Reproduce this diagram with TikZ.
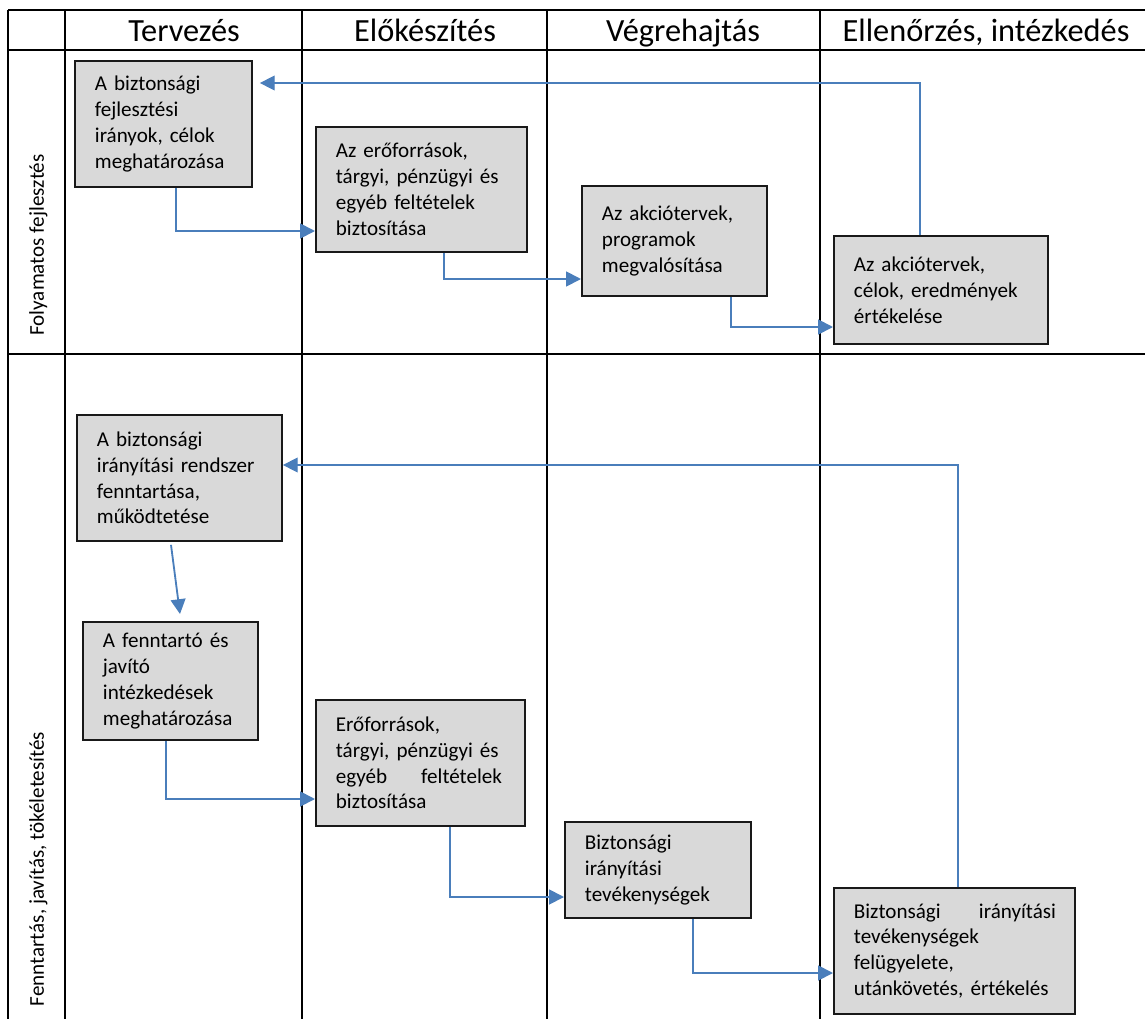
\documentclass[tikz,border=0pt]{standalone}
\usepackage{fontspec}
\setmainfont{Carlito}
\usetikzlibrary{calc, positioning}
\usetikzlibrary{arrows.meta}
\definecolor{flowblue}{HTML}{4A7EBB}
\definecolor{boxgray}{HTML}{D9D9D9}

\begin{document}
\begin{tikzpicture}[x=0.025cm, y=-0.025cm,
  grid/.style={line width=1.4pt, black},
  stage/.style={draw=black!90, fill=boxgray, line width=1.3pt, anchor=north west, align=left,
    inner xsep=0.5cm, inner ysep=0pt, font=\fontsize{15pt}{18.4pt}\selectfont},
  flow/.style={draw=flowblue, line width=1.3pt, -{Triangle[length=10.5pt,width=10.5pt]}},
  back/.style={flow, line width=0.9pt},
  lane/.style={rotate=90, anchor=base, font=\fontsize{15pt}{18pt}\selectfont},
  phase/.style={anchor=base, font=\fontsize{23pt}{27pt}\selectfont}]
\useasboundingbox (0,0) rectangle (1145,1019);
\def\ytop{10}
\def\yhead{50}
\def\yrow{354}
\def\ybot{1019}
\def\xright{1145}

\draw[grid] (8,\ytop) -- (\xright,\ytop);
\draw[grid] (8,\yhead) -- (\xright,\yhead);
\draw[grid] (8,\yrow) -- (\xright,\yrow);
\draw[grid] (8,\ytop) -- (8,\ybot);
\draw[grid] (65,\ytop) -- (65,\ybot);
\draw[grid] (302,\ytop) -- (302,\ybot);
\draw[grid] (547,\ytop) -- (547,\ybot);
\draw[grid] (820,\ytop) -- (820,\ybot);

\node[phase] (tervezes) at (184,41) {Tervezés};
\node[phase] (elokeszites) at (425,41) {Előkészítés};
\node[phase] (vegrehajtas) at (683,41) {Végrehajtás};
\node[phase] (ellenorzes) at (986,41) {Ellenőrzés, intézkedés};

\node[lane] (folyamatos) at (44,245) {Folyamatos fejlesztés};
\node[lane] (fenntartas) at (44,869) {Fenntartás, javítás, tökéletesítés};

\node[stage, text width=3.425cm, minimum height=3.15cm] (fejl) at (74,60)
  {A biztonsági\\ fejlesztési\\ irányok, célok\\ meghatározása};
\node[stage, text width=4.275cm, minimum height=3.125cm] (eroforras) at (315,126)
  {Az erőforrások,\\ tárgyi, pénzügyi és\\ egyéb feltételek\\ biztosítása};
\node[stage, text width=3.625cm, minimum height=2.75cm] (megval) at (581,185)
  {Az akciótervek,\\ programok\\ megvalósítása};
\node[stage, text width=4.35cm, minimum height=2.7cm] (ertekel) at (833,235)
  {Az akciótervek,\\ célok, eredmények\\ értékelése};

\node[stage, text width=4.125cm, minimum height=3.15cm] (fenntart) at (76,414)
  {A biztonsági\\ irányítási rendszer\\ fenntartása,\\ működtetése};
\node[stage, text width=3.375cm, minimum height=2.95cm] (javito) at (82,621)
  {A fenntartó és\\ javító\\ intézkedések\\ meghatározása};
\node[stage, text width=4.225cm, minimum height=3.15cm] (eroforrasb) at (315,699)
  {Erőforrások,\\ tárgyi, pénzügyi és\\ \makebox[4.15cm][s]{egyéb\hfill feltételek}\\ biztosítása};
\node[stage, text width=3.65cm, minimum height=2.4cm] (tevek) at (564,821)
  {Biztonsági\\ irányítási\\ tevékenységek};
\node[stage, text width=5.025cm, minimum height=3.15cm] (felugyel) at (833,887)
  {\makebox[5.05cm][s]{Biztonsági\hfill irányítási}\\ tevékenységek\\ felügyelete,\\ utánkövetés, értékelés};

\draw[flow] ($(fejl.south west)+(102,0)$) |- ($(eroforras.north west)+(0,105)$);
\draw[flow] ($(eroforras.south west)+(129,0)$) |- ($(megval.north west)+(0,94)$);
\draw[flow] ($(megval.south west)+(150,0)$) |- ($(ertekel.north west)+(0,92)$);
\draw[back] ($(ertekel.north west)+(87,0)$) |- ($(fejl.north east)+(7,23)$);

\draw[flow] ($(fenntart.south west)+(95,3)$) -- ($(javito.north west)+(98,-7)$);
\draw[flow] ($(javito.south west)+(84,0)$) |- ($(eroforrasb.north west)+(0,100)$);
\draw[flow] ($(eroforrasb.south west)+(135,0)$) |- ($(tevek.north west)+(0,76)$);
\draw[flow] ($(tevek.south west)+(129,0)$) |- ($(felugyel.north west)+(0,86)$);
\draw[back] ($(felugyel.north west)+(125,0)$) |- ($(fenntart.north east)+(0,51)$);
\end{tikzpicture}
\end{document}
